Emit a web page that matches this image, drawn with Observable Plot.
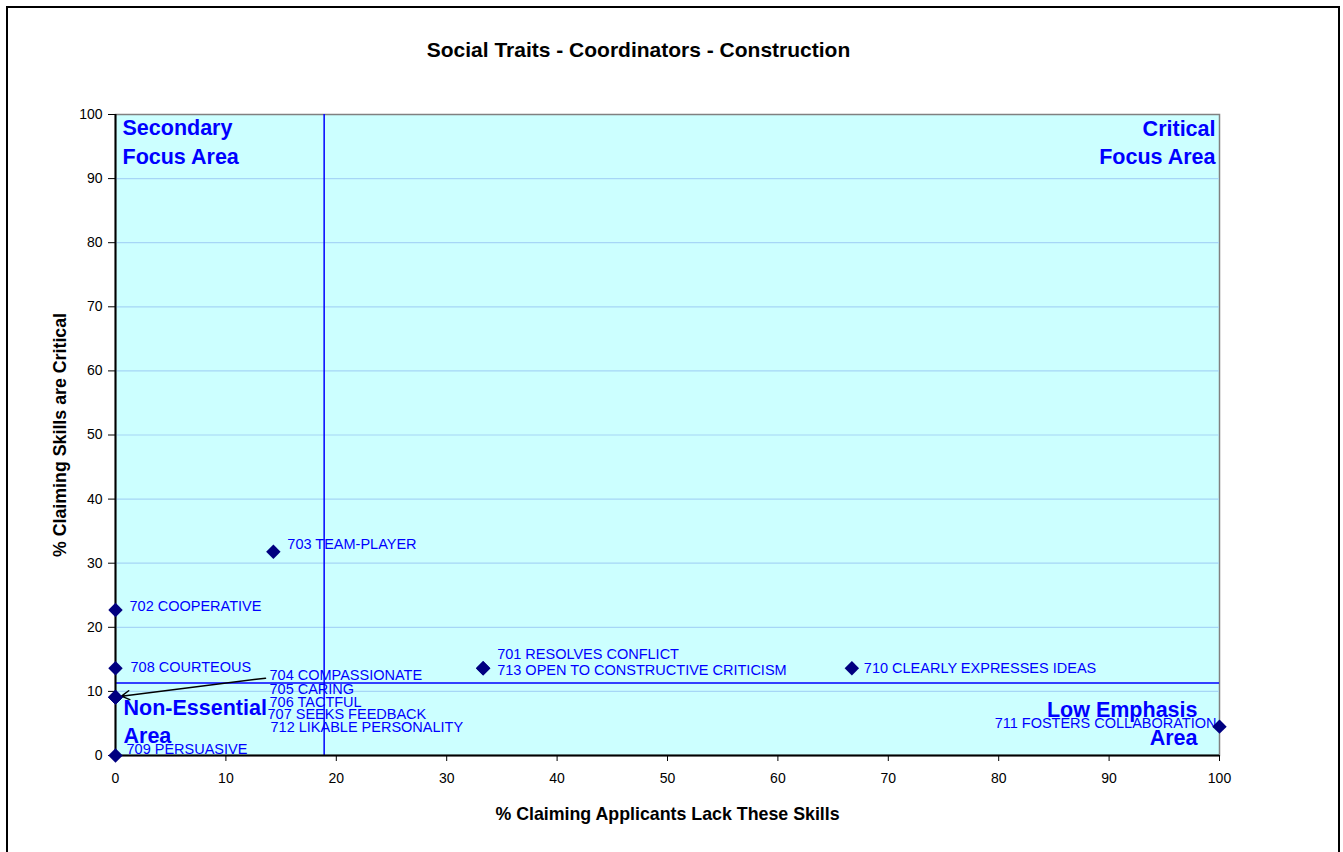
<!DOCTYPE html>
<html>
<head>
<meta charset="utf-8">
<script src="https://cdn.jsdelivr.net/npm/d3@7"></script>
<script src="https://cdn.jsdelivr.net/npm/@observablehq/plot@0.6"></script>
<style>
  html, body { margin: 0; padding: 0; background: #fff; }
  #wrap { position: relative; width: 1343px; height: 852px; overflow: hidden; }
  #border { position: absolute; left: 6px; top: 6px; width: 1334px; height: 900px; box-sizing: border-box; border: 2.5px solid #000; pointer-events: none; }
  #chart { position: absolute; left: 0; top: 0; }
</style>
</head>
<body>
<div id="wrap"><div id="chart"></div><div id="border"></div></div>
<script>
// ---- data ----
const title = "Social Traits - Coordinators - Construction";
const xTitle = "% Claiming Applicants Lack These Skills";
const yTitle = "% Claiming Skills are Critical";
const codes = [701, 702, 703, 704, 705, 706, 707, 708, 709, 710, 711, 712, 713];
const names = ["RESOLVES CONFLICT", "COOPERATIVE", "TEAM-PLAYER", "COMPASSIONATE", "CARING", "TACTFUL",
  "SEEKS FEEDBACK", "COURTEOUS", "PERSUASIVE", "CLEARLY EXPRESSES IDEAS", "FOSTERS COLLABORATION",
  "LIKABLE PERSONALITY", "OPEN TO CONSTRUCTIVE CRITICISM"];
const lack = [33.3, 0, 14.3, 0, 0, 0, 0, 0, 0, 66.7, 100, 0, 33.3];
const critical = [13.6, 22.7, 31.8, 9.1, 9.1, 9.1, 9.1, 13.6, 0, 13.6, 4.5, 9.1, 13.6];
const xTicks = [0, 10, 20, 30, 40, 50, 60, 70, 80, 90, 100];
const yTicks = [0, 10, 20, 30, 40, 50, 60, 70, 80, 90, 100];
const lackAverage = 18.9;
const criticalAverage = 11.3;
const quadrants = ["Secondary", "Focus Area", "Critical", "Focus Area", "Non-Essential", "Area", "Low Emphasis", "Area"];

const skills = codes.map((c, i) => ({code: c, label: `${c} ${names[i]}`, x: lack[i], y: critical[i]}));

// ---- layout (pixels) ----
const W = 1343, H = 852, ML = 115, MR = 124, MT = 114, MB = 97;
const pxX = (W - ML - MR) / 100, pxY = (H - MT - MB) / 100;
const labelOffsets = {
  701: [14, -14], 702: [14, -4], 703: [14, -7], 704: [154, -22], 705: [154, -8], 706: [154, 5],
  707: [152, 17], 708: [15, -1], 709: [11, -6], 710: [12, 0], 711: [-3, -3, "end"], 712: [155, 30], 713: [14, 2]
};
const font = "Liberation Sans, Arial, sans-serif";
const blue = "#0000ff";

const labelMarks = skills.map(s => {
  const [dx, dy, anchor] = labelOffsets[s.code];
  return Plot.text([s], {x: "x", y: "y", text: "label", dx, dy, textAnchor: anchor || "start",
    fill: blue, fontSize: 14.5, fontFamily: font});
});

const cluster = skills.find(s => s.code === 704);
const arrowData = [{x1: cluster.x + 150 / pxX, y1: cluster.y + 19 / pxY, x2: cluster.x + 6 / pxX, y2: cluster.y + 1 / pxY}];

const q = (i, anchor, dx, dy) => Plot.text([quadrants[i]], {frameAnchor: anchor, text: d => d, dx, dy,
  lineAnchor: "middle", fill: blue, fontSize: 21.5, fontWeight: "bold", fontFamily: font});

const chart = Plot.plot({
  width: W, height: H,
  marginLeft: ML, marginRight: MR, marginTop: MT, marginBottom: MB,
  style: {fontFamily: font, fontSize: "14px", color: "#000", background: "transparent"},
  x: {domain: [0, 100], label: null},
  y: {domain: [0, 100], label: null},
  marks: [
    Plot.frame({fill: "#ccffff", stroke: "#808080", strokeWidth: 1.5}),
    Plot.ruleY(yTicks.filter(d => d > 0 && d < 100), {stroke: "#a6d6f6", strokeWidth: 1.2}),
    Plot.ruleX([lackAverage], {stroke: blue, strokeWidth: 1.5}),
    Plot.ruleY([criticalAverage], {stroke: blue, strokeWidth: 1.5}),
    Plot.ruleX([0], {stroke: "#000", strokeWidth: 2}),
    Plot.ruleY([0], {stroke: "#000", strokeWidth: 2}),
    Plot.axisX({ticks: xTicks, tickSize: 6, tickPadding: 12, fontSize: 14, label: null, stroke: "#000"}),
    Plot.axisY({ticks: yTicks, tickSize: 7, tickPadding: 6, fontSize: 14, label: null, stroke: "#000"}),
    q(0, "top-left", 7, 14), q(1, "top-left", 7, 43),
    q(2, "top-right", -4, 15), q(3, "top-right", -4, 43),
    q(4, "bottom-left", 8, -47), q(5, "bottom-left", 8, -19),
    q(6, "bottom-right", -22, -45), q(7, "bottom-right", -22, -17),
    ...labelMarks,
    Plot.arrow(arrowData, {x1: "x1", y1: "y1", x2: "x2", y2: "y2", stroke: "#000", strokeWidth: 1.5, headLength: 9}),
    Plot.dot(skills, {x: "x", y: "y", symbol: "diamond2", r: 6.5, fill: "#000080", stroke: "none"}),
    Plot.text([title], {frameAnchor: "top", text: d => d, dx: -29, dy: -64, lineAnchor: "middle",
      fontSize: 21, fontWeight: "bold", fill: "#000", fontFamily: font}),
    Plot.text([xTitle], {frameAnchor: "bottom", text: d => d, dy: 59, lineAnchor: "middle",
      fontSize: 17.8, fontWeight: "bold", fill: "#000", fontFamily: font}),
    Plot.text([yTitle], {frameAnchor: "left", text: d => d, dx: -55, rotate: -90, lineAnchor: "middle",
      textAnchor: "middle", fontSize: 17.8, fontWeight: "bold", fill: "#000", fontFamily: font})
  ]
});
document.getElementById("chart").appendChild(chart);
</script>
</body>
</html>
